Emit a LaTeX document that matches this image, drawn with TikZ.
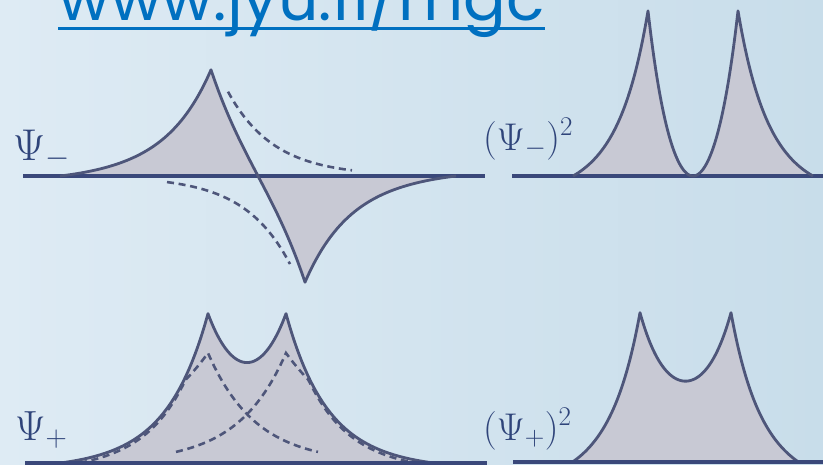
\RequirePackage{fix-cm}
\documentclass[tikz,border=0pt]{standalone}
\usepackage{fontspec}
\newfontfamily\urlfont{Poppins}
\definecolor{bgleft}{RGB}{222,235,244}
\definecolor{bgright}{RGB}{200,221,234}
\definecolor{linkblue}{RGB}{0,112,192}
\definecolor{curvenavy}{RGB}{78,86,122}
\definecolor{axisnavy}{RGB}{58,72,122}
\definecolor{lobegray}{RGB}{200,201,212}
\definecolor{labelnavy}{RGB}{47,68,122}
\tikzset{
	axisline/.style={draw=axisnavy, line width=3.4pt},
	wave/.style={draw=curvenavy, line width=2.4pt, line join=round},
	lobe/.style={fill=lobegray},
	orbital/.style={draw=curvenavy, line width=2.2pt, dash pattern=on 6pt off 4pt},
	psilabel/.style={inner sep=0pt, anchor=base west, text=labelnavy},
}
\begin{document}
\begin{tikzpicture}[
x=0.03cm, y=-0.03cm,
declare function={
	orb(\x,\c,\l)=exp(-abs(\x-\c)/\l);
	win(\x,\c,\r)=1-(abs(\x-\c)/\r)^6;
	psim(\x)=122*(orb(\x,211,46)-orb(\x,305,46))*win(\x,258,198);
	psimsq(\x)=259*(orb(\x,648,56)-orb(\x,738,56))^2*win(\x,693,120);
	psip(\x)=130*(orb(\x,208,41)+orb(\x,286,41))*win(\x,247,187);
	psipsq(\x)=105.7*(orb(\x,640,55)+orb(\x,731,55))^2*win(\x,685.5,113);
	dashL(\x)=ifthenelse(\x<208, min(110*exp(-(208-\x)/80), psip(\x)-3), 110*orb(\x,208,48));
	dashR(\x)=ifthenelse(\x>286, min(110*exp(-(\x-286)/80), psip(\x)-3), 110*orb(\x,286,48));
},
]
\useasboundingbox (0,0) rectangle (823,464);
\clip (0,0) rectangle (823,464);
\shade[left color=bgleft, right color=bgright] (0,0) rectangle (823,464);

% link
\node[inner sep=0pt, anchor=base west, text=linkblue,
	font=\urlfont\fontsize{54}{54}\selectfont] (url) at (58,20) {www.jyu.fi/mgc};
\draw[linkblue, line width=2.4pt] ([yshift=-7pt]url.base west) -- ([yshift=-7pt]url.base east);

% Psi_-
\coordinate (axA-l) at (23,176);
\coordinate (axA-r) at (485,176);
\fill[lobe] (60,176) -- plot[domain=60:456, samples=397] (\x,{176-psim(\x)}) -- cycle;
\draw[axisline] (axA-l) -- (axA-r);
\draw[orbital] plot[domain=228:352, samples=60] (\x,{176-122*orb(\x,211,46)});
\draw[orbital] plot[domain=167:290, samples=60] (\x,{176+122*orb(\x,305,46)});
\draw[wave] plot[domain=60:456, samples=397] (\x,{176-psim(\x)});
\node[psilabel, font=\fontsize{38}{38}\selectfont] (psiminus) at (13,160) {$\Psi_{-}$};

% (Psi_-)^2
\coordinate (axB-l) at (512,176);
\coordinate (axB-r) at (823,176);
\fill[lobe] (573,176) -- plot[domain=573:813, samples=241] (\x,{176-psimsq(\x)}) -- cycle;
\draw[axisline] (axB-l) -- (axB-r);
\draw[wave] plot[domain=573:813, samples=241] (\x,{176-psimsq(\x)});
\node[psilabel, font=\fontsize{33}{33}\selectfont] (psiminussq) at (483,150) {$(\Psi_{-})^2$};

% Psi_+
\coordinate (axC-l) at (25,463);
\coordinate (axC-r) at (487,463);
\fill[lobe] (60,463) -- plot[domain=60:434, samples=375] (\x,{463-psip(\x)}) -- cycle;
\draw[orbital] plot[domain=80:318, samples=120] (\x,{463-dashL(\x)});
\draw[orbital] plot[domain=176:414, samples=120] (\x,{463-dashR(\x)});
\draw[wave] plot[domain=60:434, samples=375] (\x,{463-psip(\x)});
\draw[axisline] (axC-l) -- (axC-r);
\node[psilabel, font=\fontsize{36}{36}\selectfont] (psiplus) at (15,440) {$\Psi_{+}$};

% (Psi_+)^2
\coordinate (axD-l) at (513,462);
\coordinate (axD-r) at (823,462);
\fill[lobe] (573,462) -- plot[domain=573:798, samples=226] (\x,{462-psipsq(\x)}) -- cycle;
\draw[wave] plot[domain=573:798, samples=226] (\x,{462-psipsq(\x)});
\draw[axisline] (axD-l) -- (axD-r);
\node[psilabel, font=\fontsize{33}{33}\selectfont] (psiplussq) at (483,440) {$(\Psi_{+})^2$};
\end{tikzpicture}
\end{document}
